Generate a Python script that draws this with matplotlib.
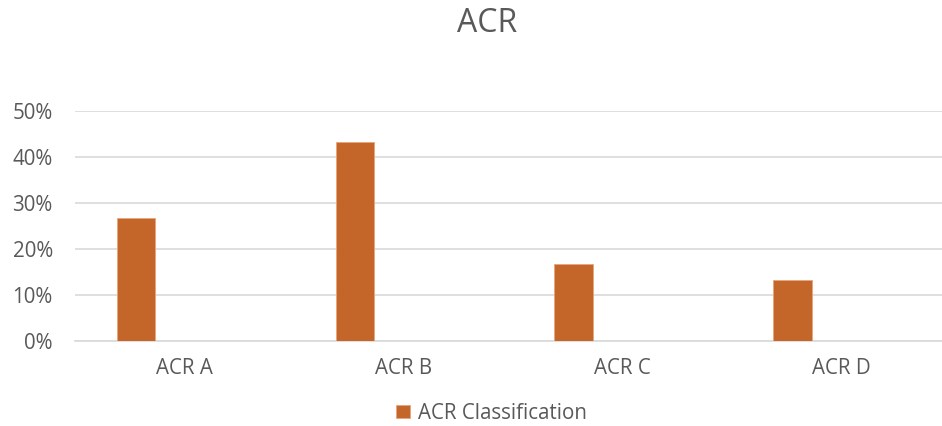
import numpy as np
import matplotlib.pyplot as plt
from matplotlib.ticker import PercentFormatter

categories = ['ACR A', 'ACR B', 'ACR C', 'ACR D']
acr_share = [0.267, 0.433, 0.167, 0.133]
series_name = 'ACR Classification'

plt.rcParams['font.family'] = ['Open Sans', 'DejaVu Sans']
grey = '#595959'
bar_color = '#C4652A'

fig = plt.figure(figsize=(9.42, 4.26), dpi=100)
ax = fig.add_axes([75 / 942, 85 / 426, 867 / 942, 230 / 426])

x = np.arange(len(categories))
ax.bar(x - 0.222, acr_share, width=0.176, color=bar_color,
       edgecolor='#E8A47A', linewidth=0.6, label=series_name, zorder=3)

ax.set_xlim(-0.5, 3.46)
ax.set_ylim(0, 0.5)
ax.set_yticks(np.arange(0, 0.51, 0.1))
ax.yaxis.set_major_formatter(PercentFormatter(1.0, decimals=0))
ax.set_xticks(x)
ax.set_xticklabels(categories)
ax.grid(axis='y', color='#d9d9d9', linewidth=1.2, zorder=0)
for s in ['top', 'right', 'left']:
    ax.spines[s].set_visible(False)
ax.spines['bottom'].set_color('#d9d9d9')
ax.spines['bottom'].set_linewidth(1.2)
ax.tick_params(axis='both', length=0, labelsize=14.8, labelcolor=grey)
ax.tick_params(axis='y', pad=16)
ax.tick_params(axis='x', pad=12)

fig.text(0.517, 0.946, 'ACR', ha='center', va='center', fontsize=23, color=grey)
fig.legend(loc='center', bbox_to_anchor=(0.522, 0.03), frameon=False,
           fontsize=14.8, labelcolor=grey, handlelength=0.65, handleheight=0.65,
           handletextpad=0.4)

fig.savefig('out.png', dpi=100)
